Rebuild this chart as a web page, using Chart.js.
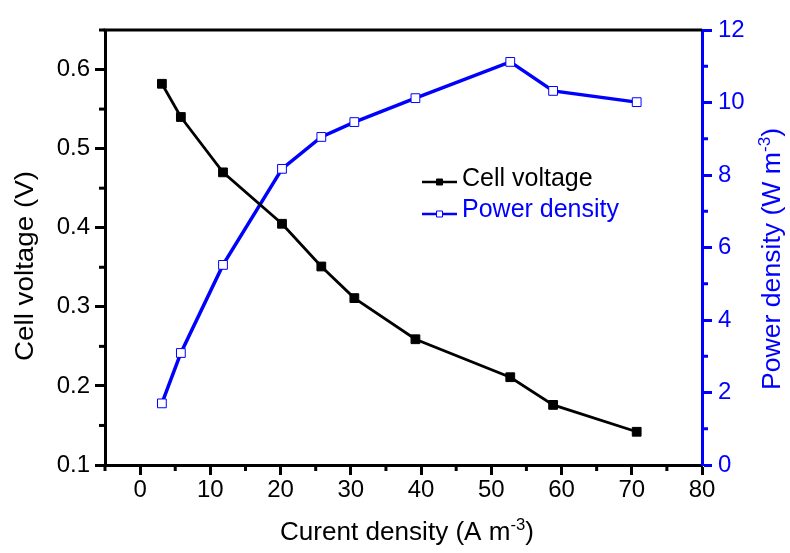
<!DOCTYPE html>
<html>
<head>
<meta charset="utf-8">
<script src="https://cdn.jsdelivr.net/npm/chart.js@4"></script>
<style>
  html, body { margin: 0; padding: 0; background: #fff; }
  #wrap { width: 790px; height: 553px; }
</style>
</head>
<body>
<div id="wrap"><canvas id="chart" width="790" height="553"></canvas></div>
<script>
// values
var currentDensity = [3.1, 5.8, 11.8, 20.2, 25.8, 30.5, 39.2, 52.7, 58.8, 70.7];
var cellVoltage = [0.582, 0.540, 0.470, 0.405, 0.351, 0.311, 0.259, 0.211, 0.176, 0.142];
var powerDensity = [1.70, 3.09, 5.52, 8.17, 9.05, 9.46, 10.12, 11.12, 10.32, 10.01];

var xTicks = [0, 10, 20, 30, 40, 50, 60, 70, 80];
var xMinor = [-5, 5, 15, 25, 35, 45, 55, 65, 75];
var voltTicks = [0.1, 0.2, 0.3, 0.4, 0.5, 0.6];
var voltMinor = [0.15, 0.25, 0.35, 0.45, 0.55, 0.65];
var powerTicks = [0, 2, 4, 6, 8, 10, 12];
var powerMinor = [1, 3, 5, 7, 9, 11];

var BLUE = '#0000ff';
var FONT = '"Liberation Sans", Arial, sans-serif';

function toPoints(xs, ys) {
    return xs.map(function (x, i) { return { x: x, y: ys[i] }; });
}

function fixTicks(list) {
    return function (scale) {
        scale.ticks = list.map(function (v) { return { value: v }; });
    };
}

function fixSize(size) {
    return function (scale) {
        if (scale.isHorizontal()) scale.height = size;
        else scale.width = size;
    };
}

// text made of pieces (for the superscript), stretched to a given length
function richText(ctx, parts, cx, baseY, angle, color, length) {
    ctx.save();
    ctx.translate(cx, baseY);
    ctx.rotate(angle);
    ctx.fillStyle = color;
    ctx.textBaseline = 'alphabetic';
    ctx.textAlign = 'left';
    var total = 0;
    parts.forEach(function (p) {
        ctx.font = p.size + 'px ' + FONT;
        total += ctx.measureText(p.t).width;
    });
    ctx.scale(length / total, 1);
    var x = -total / 2;
    parts.forEach(function (p) {
        ctx.font = p.size + 'px ' + FONT;
        ctx.fillText(p.t, x, p.dy || 0);
        x += ctx.measureText(p.t).width;
    });
    ctx.restore();
}

// minor ticks, frame top line, axis titles and legend
var decorations = {
    id: 'decorations',
    afterDraw: function (chart) {
        var ctx = chart.ctx;
        var area = chart.chartArea;
        var sx = chart.scales.x, sy = chart.scales.y, sy2 = chart.scales.y2;

        ctx.save();
        ctx.lineWidth = 3;
        ctx.lineCap = 'butt';

        ctx.strokeStyle = '#000';
        ctx.beginPath();
        ctx.moveTo(area.left - 1.5, area.top);
        ctx.lineTo(area.right, area.top);
        ctx.stroke();

        xMinor.forEach(function (v) {
            var px = sx.getPixelForValue(v);
            ctx.beginPath();
            ctx.moveTo(px, area.bottom);
            ctx.lineTo(px, area.bottom + 6);
            ctx.stroke();
        });
        voltMinor.forEach(function (v) {
            var py = sy.getPixelForValue(v);
            ctx.beginPath();
            ctx.moveTo(area.left, py);
            ctx.lineTo(area.left - 6, py);
            ctx.stroke();
        });
        ctx.strokeStyle = BLUE;
        powerMinor.forEach(function (v) {
            var py = sy2.getPixelForValue(v);
            ctx.beginPath();
            ctx.moveTo(area.right, py);
            ctx.lineTo(area.right + 6, py);
            ctx.stroke();
        });

        // titles
        richText(ctx, [{ t: 'Cell voltage (V)', size: 25 }], 33, 266, -Math.PI / 2, '#000', 190);
        richText(ctx, [{ t: 'Curent density (A m', size: 25 }, { t: '-3', size: 16, dy: -10 }, { t: ')', size: 25 }],
            407, 540, 0, '#000', 254);
        ctx.save();
        ctx.translate(780, 259);
        richText(ctx, [{ t: 'Power density (W m', size: 25 }, { t: '-3', size: 16, dy: -10 }, { t: ')', size: 25 }],
            0, 0, -Math.PI / 2, BLUE, 262);
        ctx.restore();

        // legend
        var items = [
            { ds: chart.data.datasets[0], y: 182, base: 186, color: '#000' },
            { ds: chart.data.datasets[1], y: 214, base: 217, color: BLUE }
        ];
        items.forEach(function (it) {
            ctx.strokeStyle = it.ds.borderColor;
            ctx.lineWidth = 2.5;
            ctx.beginPath();
            ctx.moveTo(422, it.y);
            ctx.lineTo(457, it.y);
            ctx.stroke();
            ctx.fillStyle = it.ds.pointBackgroundColor;
            ctx.strokeStyle = it.ds.pointBorderColor;
            ctx.lineWidth = 1;
            ctx.beginPath();
            ctx.rect(436.5, it.y - 3, 6, 6);
            ctx.fill();
            ctx.stroke();
            ctx.fillStyle = it.color;
            ctx.font = '25px ' + FONT;
            ctx.textAlign = 'left';
            ctx.textBaseline = 'alphabetic';
            ctx.fillText(it.ds.label, 462, it.base);
        });
        ctx.restore();
    }
};

var tickFont = { family: FONT, size: 24 };

new Chart(document.getElementById('chart'), {
    type: 'scatter',
    data: {
        datasets: [
            {
                label: 'Cell voltage',
                data: toPoints(currentDensity, cellVoltage),
                yAxisID: 'y',
                showLine: true,
                borderColor: '#000',
                borderWidth: 2.8,
                pointStyle: 'rect',
                pointRadius: 6.2,
                pointBackgroundColor: '#000',
                pointBorderColor: '#000',
                pointBorderWidth: 1
            },
            {
                label: 'Power density',
                data: toPoints(currentDensity, powerDensity),
                yAxisID: 'y2',
                showLine: true,
                borderColor: BLUE,
                borderWidth: 3.5,
                pointStyle: 'rect',
                pointRadius: 6.2,
                pointBackgroundColor: '#fff',
                pointBorderColor: BLUE,
                pointBorderWidth: 1
            }
        ]
    },
    options: {
        responsive: false,
        animation: false,
        layout: { padding: { top: 30, left: 0, right: 0, bottom: 0 } },
        plugins: {
            legend: { display: false },
            tooltip: { enabled: false }
        },
        scales: {
            x: {
                type: 'linear',
                min: -5,
                max: 80,
                afterBuildTicks: fixTicks(xTicks),
                afterFit: fixSize(88),
                border: { display: true, color: '#000', width: 3 },
                grid: { drawOnChartArea: false, tickLength: 10, tickWidth: 3, tickColor: '#000' },
                ticks: { color: '#000', font: tickFont, padding: 1, maxRotation: 0 }
            },
            y: {
                position: 'left',
                min: 0.1,
                max: 0.65,
                afterBuildTicks: fixTicks(voltTicks),
                afterFit: fixSize(105),
                border: { display: true, color: '#000', width: 3 },
                grid: { drawOnChartArea: false, tickLength: 10, tickWidth: 3, tickColor: '#000' },
                ticks: {
                    color: '#000', font: tickFont, padding: 5,
                    callback: function (v) { return v.toFixed(1); }
                }
            },
            y2: {
                position: 'right',
                min: 0,
                max: 12,
                afterBuildTicks: fixTicks(powerTicks),
                afterFit: fixSize(88),
                border: { display: true, color: BLUE, width: 3 },
                grid: { drawOnChartArea: false, tickLength: 10, tickWidth: 3, tickColor: BLUE },
                ticks: { color: BLUE, font: tickFont, padding: 6 }
            }
        }
    },
    plugins: [decorations]
});
</script>
</body>
</html>
